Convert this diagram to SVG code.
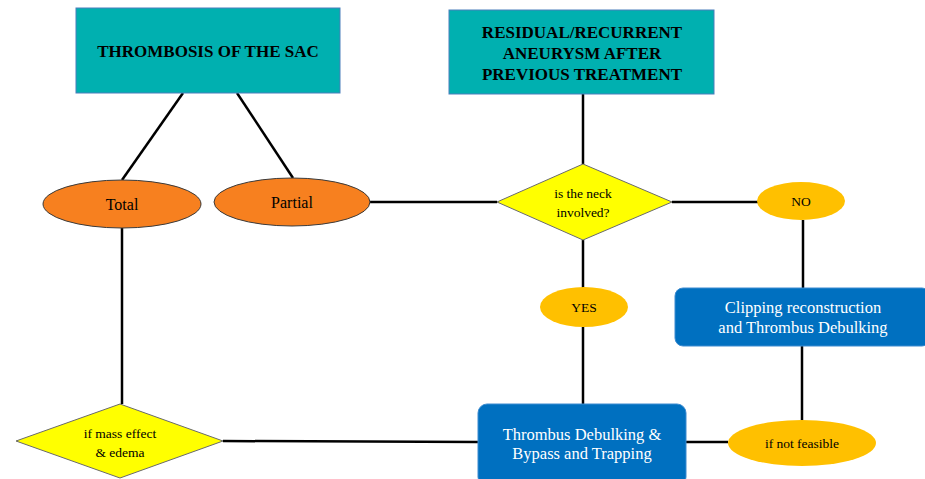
<svg xmlns="http://www.w3.org/2000/svg" width="925" height="479" viewBox="0 0 925 479">
<style>
.teal{fill:#00B0B0;stroke:#4A7EBB;stroke-width:1}
.oval{fill:#F7801F;stroke:#3A3A3A;stroke-width:1}
.dia{fill:#FFFF00;stroke:#6A6A6A;stroke-width:1}
.gold{fill:#FFC000;stroke:none}
.blue{fill:#0070C0;stroke:#3D8BD0;stroke-width:1}
.t{font-family:"Liberation Serif","Times New Roman",serif;text-anchor:middle;fill:#000}
.h{font-weight:bold;font-size:17px}
.w{fill:#fff;font-size:16.5px}
.s{font-size:13.5px}
.m{font-size:16px}
.c line{stroke:#000;stroke-width:2.5}
</style>
<g class="c" id="connectors">
<line x1="183" y1="93" x2="122" y2="180"/>
<line x1="237" y1="93" x2="293" y2="178"/>
<line x1="370" y1="202" x2="497" y2="202"/>
<line x1="583" y1="94" x2="583" y2="164"/>
<line x1="672" y1="202" x2="758" y2="202"/>
<line x1="803" y1="220" x2="803" y2="288"/>
<line x1="802" y1="346" x2="802" y2="420"/>
<line x1="686" y1="442" x2="728" y2="442"/>
<line x1="583" y1="240" x2="583" y2="288"/>
<line x1="583" y1="327" x2="583" y2="404"/>
<line x1="122" y1="228" x2="122" y2="404"/>
<line x1="223" y1="441" x2="478" y2="442"/>
</g>
<g id="thrombosis">
<rect class="teal" x="76" y="8" width="264" height="85"/>
<text class="t h" x="208" y="57">THROMBOSIS  OF THE SAC</text>
</g>
<g id="residual">
<rect class="teal" x="449" y="10" width="265" height="84"/>
<text class="t h" x="582" y="38">RESIDUAL/RECURRENT</text>
<text class="t h" x="582" y="59">ANEURYSM  AFTER</text>
<text class="t h" x="582" y="80">PREVIOUS  TREATMENT</text>
</g>
<g id="total">
<ellipse class="oval" cx="122" cy="204" rx="79" ry="24"/>
<text class="t m" x="122" y="210">Total</text>
</g>
<g id="partial">
<ellipse class="oval" cx="292" cy="202" rx="78" ry="24"/>
<text class="t m" x="292" y="208">Partial</text>
</g>
<g id="neck">
<polygon class="dia" points="583,164 672,202 583,240 497,202"/>
<text class="t s" x="583" y="198">is the neck</text>
<text class="t s" x="583" y="217">involved?</text>
</g>
<g id="no">
<ellipse class="gold" cx="801" cy="201" rx="44" ry="19"/>
<text class="t s" x="801" y="206">NO</text>
</g>
<g id="yes">
<ellipse class="gold" cx="584" cy="307" rx="44" ry="20"/>
<text class="t s" x="584" y="312">YES</text>
</g>
<g id="clipping">
<rect class="blue" x="675" y="288" width="255" height="58" rx="8"/>
<text class="t w" x="803" y="313">Clipping  reconstruction</text>
<text class="t w" x="803" y="333">and Thrombus Debulking</text>
</g>
<g id="notfeasible">
<ellipse class="gold" cx="802" cy="443" rx="74" ry="23"/>
<text class="t s" x="802" y="448">if  not feasible</text>
</g>
<g id="debulking">
<rect class="blue" x="478" y="404" width="208" height="82" rx="9"/>
<text class="t w" x="582" y="440">Thrombus Debulking  &amp;</text>
<text class="t w" x="582" y="459">Bypass and Trapping</text>
</g>
<g id="mass">
<polygon class="dia" points="120,404 223,441 120,478 16,441"/>
<text class="t s" x="120" y="438">if  mass  effect</text>
<text class="t s" x="120" y="457">&amp; edema</text>
</g>
</svg>
